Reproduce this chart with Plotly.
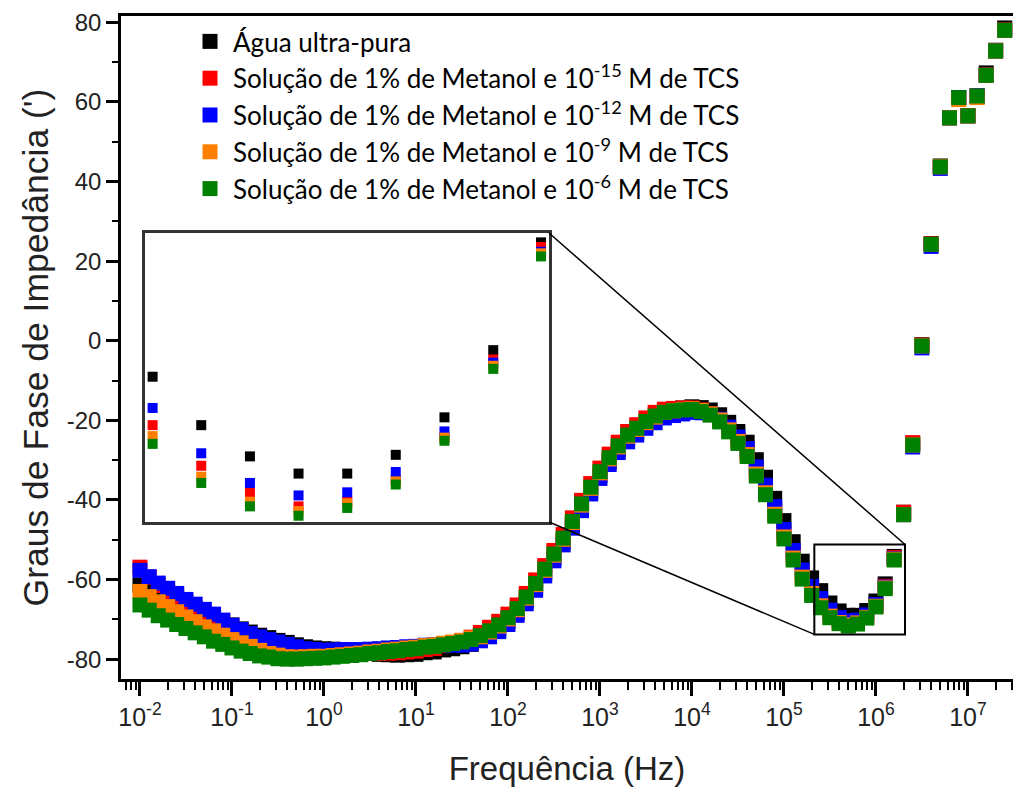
import math
import plotly.graph_objects as go

# ---------------- data ----------------
freq_hz = [
    1.00e-2, 1.26e-2, 1.58e-2, 2.00e-2, 2.51e-2, 3.16e-2, 3.98e-2, 5.01e-2, 6.31e-2, 7.94e-2,
    1.00e-1, 1.26e-1, 1.58e-1, 2.00e-1, 2.51e-1, 3.16e-1, 3.98e-1, 5.01e-1, 6.31e-1, 7.94e-1,
    1.00e0, 1.26e0, 1.58e0, 2.00e0, 2.51e0, 3.16e0, 3.98e0, 5.01e0, 6.31e0, 7.94e0,
    1.00e1, 1.26e1, 1.58e1, 2.00e1, 2.51e1, 3.16e1, 3.98e1, 5.01e1, 6.31e1, 7.94e1,
    1.00e2, 1.26e2, 1.58e2, 2.00e2, 2.51e2, 3.16e2, 3.98e2, 5.01e2, 6.31e2, 7.94e2,
    1.00e3, 1.26e3, 1.58e3, 2.00e3, 2.51e3, 3.16e3, 3.98e3, 5.01e3, 6.31e3, 7.94e3,
    1.00e4, 1.26e4, 1.58e4, 2.00e4, 2.51e4, 3.16e4, 3.98e4, 5.01e4, 6.31e4, 7.94e4,
    1.00e5, 1.26e5, 1.58e5, 2.00e5, 2.51e5, 3.16e5, 3.98e5, 5.01e5, 6.31e5, 7.94e5,
    1.00e6, 1.26e6, 1.58e6, 2.00e6, 2.51e6, 3.16e6, 3.98e6, 5.01e6, 6.31e6, 7.94e6,
    1.00e7, 1.26e7, 1.58e7, 2.00e7, 2.51e7,
]

phase_agua = [
    -61.4, -62.5, -63.7, -64.6, -65.5, -66.4, -67.4, -68.4, -69.5, -70.4,
    -71.4, -72.4, -73.2, -74.0, -74.6, -75.3, -75.8, -76.4, -76.9, -77.2,
    -77.4, -77.5, -77.8, -78.1, -78.4, -78.6, -78.8, -78.9, -79.0, -78.9,
    -78.8, -78.4, -78.2, -77.7, -77.4, -76.9, -76.3, -75.2, -73.9, -72.4,
    -70.6, -68.3, -65.4, -62.0, -58.4, -54.6, -50.6, -46.4, -42.0, -37.8,
    -33.9, -30.4, -27.4, -24.7, -23.0, -20.9, -19.2, -18.0, -17.3, -16.9,
    -16.6, -16.8, -17.4, -18.6, -20.5, -22.8, -25.5, -29.9, -34.3, -39.6,
    -45.2, -50.5, -55.4, -59.6, -62.8, -65.9, -67.9, -69.0, -69.0, -67.8,
    -65.4, -61.1, -54.2, -43.1, -25.8, -1.0, 24.4, 43.9, 56.1, 61.1,
    56.6, 61.5, 67.3, 73.0, 78.6,
]

phase_tcs_1e15 = [
    -56.9, -59.4, -61.5, -63.0, -64.4, -65.7, -67.1, -68.4, -69.8, -71.0,
    -72.3, -73.5, -74.6, -75.6, -76.3, -77.1, -77.6, -78.0, -78.3, -78.6,
    -78.7, -78.7, -78.7, -78.7, -78.7, -78.6, -78.6, -78.5, -78.4, -78.2,
    -78.0, -77.6, -77.3, -76.6, -76.0, -75.3, -74.5, -73.3, -72.0, -70.5,
    -68.7, -66.4, -63.5, -60.1, -56.5, -52.7, -48.7, -44.5, -40.1, -35.9,
    -32.0, -28.5, -25.5, -22.8, -21.1, -19.4, -18.0, -17.2, -17.0, -16.9,
    -16.9, -17.4, -18.3, -19.8, -22.1, -24.8, -27.9, -32.7, -37.4, -42.8,
    -48.5, -53.8, -58.6, -62.7, -65.9, -68.5, -70.2, -71.1, -70.8, -69.4,
    -66.7, -61.7, -54.5, -43.1, -25.6, -1.1, 24.3, 43.8, 56.0, 61.1,
    56.5, 61.5, 66.8, 72.8, 78.1,
]

phase_tcs_1e12 = [
    -57.7, -59.3, -60.9, -62.2, -63.5, -65.0, -66.2, -67.5, -68.7, -70.2,
    -71.5, -72.6, -73.6, -74.4, -75.1, -75.7, -76.3, -76.9, -77.4, -77.6,
    -77.8, -77.7, -77.6, -77.6, -77.6, -77.5, -77.4, -77.2, -77.1, -76.9,
    -76.8, -76.5, -76.4, -76.4, -76.5, -76.5, -76.2, -75.4, -74.4, -73.1,
    -71.3, -69.0, -66.1, -62.7, -59.1, -55.3, -51.3, -47.1, -42.7, -38.5,
    -34.6, -31.1, -28.1, -25.4, -23.7, -22.0, -20.6, -19.4, -18.8, -18.4,
    -18.0, -18.1, -18.5, -19.7, -21.7, -24.2, -27.1, -31.7, -36.3, -41.7,
    -47.4, -52.7, -57.6, -61.7, -64.8, -67.7, -69.6, -70.4, -70.2, -68.9,
    -66.3, -61.9, -54.8, -43.7, -26.7, -1.8, 23.7, 43.3, 56.0, 61.1,
    56.5, 61.5, 66.7, 72.8, 78.0,
]

phase_tcs_1e9 = [
    -63.0, -64.3, -65.6, -66.8, -68.1, -69.4, -70.6, -71.9, -72.9, -74.0,
    -75.1, -75.9, -76.8, -77.8, -78.6, -79.0, -79.4, -79.5, -79.4, -79.3,
    -79.3, -79.1, -78.9, -78.7, -78.5, -78.2, -78.0, -77.7, -77.5, -77.2,
    -77.0, -76.6, -76.4, -76.0, -75.7, -75.3, -74.7, -74.4, -73.2, -71.7,
    -69.9, -67.6, -64.7, -61.3, -57.7, -53.9, -49.9, -45.7, -41.3, -37.1,
    -33.2, -29.7, -26.7, -24.0, -22.3, -20.6, -19.2, -18.0, -17.6, -17.3,
    -17.1, -17.5, -18.4, -19.9, -22.4, -25.3, -28.6, -33.5, -38.2, -43.6,
    -49.3, -54.6, -59.4, -63.5, -66.6, -69.2, -70.8, -71.4, -70.9, -69.5,
    -66.7, -62.1, -54.9, -43.7, -26.2, -1.3, 24.2, 43.7, 56.0, 60.6,
    56.5, 61.1, 66.7, 72.8, 78.0,
]

phase_tcs_1e6 = [
    -66.4, -67.7, -69.1, -70.2, -71.3, -72.3, -73.4, -74.4, -75.5, -76.3,
    -77.2, -78.0, -78.6, -79.2, -79.5, -79.9, -80.0, -80.0, -79.9, -79.8,
    -79.7, -79.5, -79.3, -79.1, -78.9, -78.6, -78.4, -78.1, -77.9, -77.6,
    -77.4, -77.0, -76.8, -76.4, -76.1, -75.7, -75.1, -74.1, -72.9, -71.4,
    -69.6, -67.3, -64.4, -61.0, -57.4, -53.6, -49.6, -45.4, -41.0, -36.8,
    -32.9, -29.4, -26.4, -23.7, -22.0, -20.3, -18.9, -18.0, -17.6, -17.4,
    -17.3, -17.8, -18.7, -20.4, -22.9, -25.8, -29.1, -34.0, -38.7, -44.1,
    -49.8, -55.1, -59.9, -64.0, -67.1, -69.6, -71.1, -71.7, -71.2, -69.7,
    -66.9, -62.3, -55.1, -43.7, -26.2, -1.3, 24.2, 43.7, 56.0, 61.1,
    56.5, 61.5, 66.7, 72.8, 78.0,
]

series_names = [
    "Água ultra-pura",
    "Solução de 1% de Metanol e 10<sup>-15</sup> M de TCS",
    "Solução de 1% de Metanol e 10<sup>-12</sup> M de TCS",
    "Solução de 1% de Metanol e 10<sup>-9</sup> M de TCS",
    "Solução de 1% de Metanol e 10<sup>-6</sup> M de TCS",
]
series_values = [phase_agua, phase_tcs_1e15, phase_tcs_1e12, phase_tcs_1e9, phase_tcs_1e6]
series_colors = ["#000000", "#ff0000", "#0000ff", "#ff8000", "#008000"]

x_tick_vals = [1e-2, 1e-1, 1e0, 1e1, 1e2, 1e3, 1e4, 1e5, 1e6, 1e7]
x_tick_text = ["10<sup>-2</sup>", "10<sup>-1</sup>", "10<sup>0</sup>", "10<sup>1</sup>",
               "10<sup>2</sup>", "10<sup>3</sup>", "10<sup>4</sup>", "10<sup>5</sup>",
               "10<sup>6</sup>", "10<sup>7</sup>"]
y_tick_vals = [-80, -60, -40, -20, 0, 20, 40, 60, 80]
y_tick_text = ["-80", "-60", "-40", "-20", "0", "20", "40", "60", "80"]

# zoomed region (main-plot box) and inset view
zoom_box_x = [2.14e5, 2.07e6]
zoom_box_y = [-73.8, -51.2]
inset_x_range = [5.384, 6.215]      # log10 Hz
inset_y_range = [-72.1, -53.6]

# ---------------- layout geometry ----------------
W, H = 1013, 790
ML, MR, MT, MB = 121, 0, 16, 111
X_RANGE = [-2.206, 7.49]
Y_RANGE = [-85.0, 81.6]
inset_dom_x = [0.0269, 0.4798]
inset_dom_y = [0.2368, 0.6727]

fig = go.Figure()

for name, vals, col in zip(series_names, series_values, series_colors):
    fig.add_trace(go.Scatter(
        x=freq_hz, y=vals, mode="markers", name=name,
        marker=dict(symbol="square", size=15, color=col, line=dict(width=0)),
        xaxis="x", yaxis="y",
    ))
for name, vals, col in zip(series_names, series_values, series_colors):
    fig.add_trace(go.Scatter(
        x=freq_hz, y=vals, mode="markers", name=name, showlegend=False,
        marker=dict(symbol="square", size=10, color=col, line=dict(width=0)),
        xaxis="x2", yaxis="y2",
    ))

minor_x = [k * 10.0 ** n for n in range(-3, 8) for k in range(2, 10)]

AX_FONT = "Liberation Sans, Arial, sans-serif"
fig.update_layout(
    width=W, height=H,
    margin=dict(l=ML, r=MR, t=MT, b=MB, pad=0),
    paper_bgcolor="white", plot_bgcolor="white",
    showlegend=True,
    legend=dict(
        x=0.074, y=0.997, xanchor="left", yanchor="top",
        bgcolor="rgba(0,0,0,0)", borderwidth=0,
        font=dict(family="Lato, Open Sans, sans-serif", size=26, color="#000000"),
        itemsizing="trace", itemwidth=36,
    ),
    xaxis=dict(
        type="log", range=X_RANGE, domain=[0, 1],
        tickmode="array", tickvals=x_tick_vals, ticktext=x_tick_text,
        ticks="outside", ticklen=14, tickwidth=2.5, tickcolor="black",
        minor=dict(tickmode="array", tickvals=minor_x, ticks="outside",
                   ticklen=8, tickwidth=2, tickcolor="black", showgrid=False),
        showline=True, linewidth=2.5, linecolor="black", mirror=True,
        showgrid=False, zeroline=False,
        tickfont=dict(family=AX_FONT, size=25, color="#222222"),
        title=dict(text="Frequência (Hz)", standoff=28,
                   font=dict(family=AX_FONT, size=33, color="#222222")),
    ),
    yaxis=dict(
        range=Y_RANGE, domain=[0, 1],
        tickmode="array", tickvals=y_tick_vals, ticktext=y_tick_text,
        ticks="outside", ticklen=12, tickwidth=2.5, tickcolor="black",
        minor=dict(dtick=10, tick0=0, ticks="outside", ticklen=6, tickwidth=2,
                   tickcolor="black", showgrid=False),
        showline=True, linewidth=2.5, linecolor="black", mirror=False,
        showgrid=False, zeroline=False,
        tickfont=dict(family=AX_FONT, size=24, color="#222222"),
        title=dict(text="Graus de Fase de Impedância (')", standoff=8,
                   font=dict(family=AX_FONT, size=35.5, color="#222222")),
    ),
    xaxis2=dict(
        type="log", range=inset_x_range, domain=inset_dom_x, anchor="y2",
        showticklabels=False, ticks="", showgrid=False, zeroline=False,
        showline=True, linewidth=2.5, linecolor="#333333", mirror=True,
    ),
    yaxis2=dict(
        range=inset_y_range, domain=inset_dom_y, anchor="x2",
        showticklabels=False, ticks="", showgrid=False, zeroline=False,
        showline=True, linewidth=2.5, linecolor="#333333", mirror=True,
    ),
)


def px_paper(xv):
    return (math.log10(xv) - X_RANGE[0]) / (X_RANGE[1] - X_RANGE[0])


def py_paper(yv):
    return (yv - Y_RANGE[0]) / (Y_RANGE[1] - Y_RANGE[0])


shapes = [
    dict(type="rect", xref="x", yref="y",
         x0=zoom_box_x[0], x1=zoom_box_x[1], y0=zoom_box_y[0], y1=zoom_box_y[1],
         line=dict(color="black", width=2), fillcolor="rgba(0,0,0,0)", layer="above"),
    dict(type="line", xref="paper", yref="paper",
         x0=inset_dom_x[1], y0=inset_dom_y[1],
         x1=px_paper(zoom_box_x[1]), y1=py_paper(zoom_box_y[1]),
         line=dict(color="black", width=1.5)),
    dict(type="line", xref="paper", yref="paper",
         x0=inset_dom_x[1], y0=inset_dom_y[0],
         x1=px_paper(zoom_box_x[0]), y1=py_paper(zoom_box_y[0]),
         line=dict(color="black", width=1.5)),
]
fig.update_layout(shapes=shapes)

fig.write_html("out.html")
